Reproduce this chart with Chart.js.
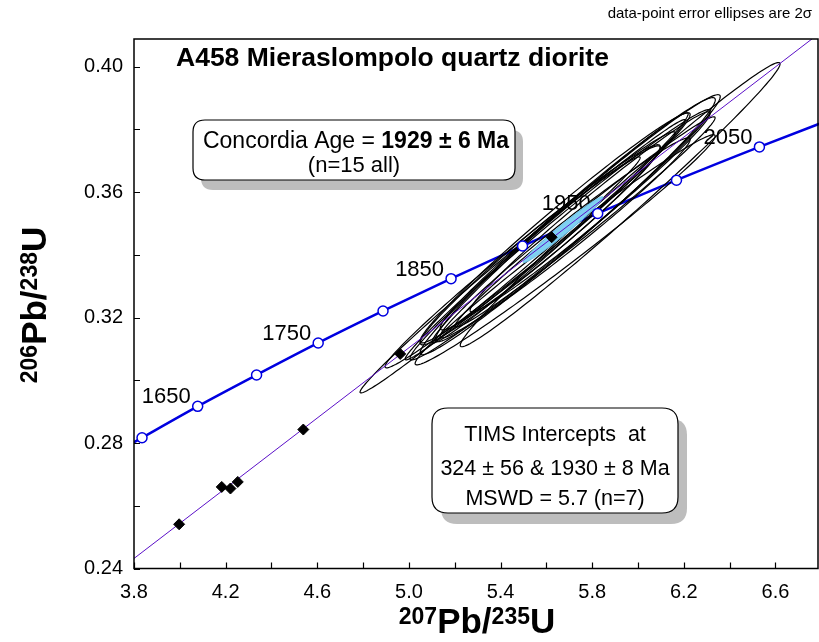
<!DOCTYPE html>
<html><head><meta charset="utf-8">
<script src="https://cdn.jsdelivr.net/npm/chart.js@4.4.1/dist/chart.umd.min.js"></script>
<style>html,body{margin:0;padding:0;background:#fff;}#wrap{width:819px;height:642px;position:relative;}</style>
</head><body><div id="wrap"><canvas id="c" width="819" height="642"></canvas></div>
<script>
// ---- data ----
const xTicks = [3.8, 4.2, 4.6, 5.0, 5.4, 5.8, 6.2, 6.6];
const xMinorTicks = [4.0, 4.4, 4.8, 5.2, 5.6, 6.0, 6.4];
const yTicks = [0.24, 0.28, 0.32, 0.36, 0.40];
const yMinorTicks = [0.26, 0.30, 0.34, 0.38];

// concordia curve (age in Ma, 207Pb/235U, 206Pb/238U)
const concAges = [1590, 1600, 1650, 1700, 1750, 1800, 1850, 1900, 1950, 2000, 2050, 2100];
const concX = [3.787, 3.835, 4.078, 4.335, 4.604, 4.887, 5.184, 5.496, 5.824, 6.168, 6.530, 6.910];
const concY = [0.2797, 0.2817, 0.2917, 0.3017, 0.3119, 0.3221, 0.3324, 0.3428, 0.3532, 0.3638, 0.3744, 0.3851];
const markerAges = [1600, 1650, 1700, 1750, 1800, 1850, 1900, 1950, 2000, 2050];
const labelAges = [1650, 1750, 1850, 1950, 2050];

// discordia (TIMS) line end points
const discX = [3.80, 6.80];
const discY = [0.2432, 0.4111];

// TIMS data points
const timsX = [3.997, 4.183, 4.221, 4.253, 4.539, 4.962, 5.623];
const timsY = [0.2541, 0.2660, 0.2655, 0.2676, 0.2843, 0.3084, 0.3456];

// SIMS error ellipses (centre, 1 sigma, correlation)
const ellX   = [5.922, 5.660, 5.595, 5.704, 5.638, 5.529, 5.398, 5.726, 5.682, 5.769, 5.573, 5.660, 5.791, 5.617, 5.682];
const ellY   = [0.3560, 0.3464, 0.3448, 0.3496, 0.3486, 0.3416, 0.3336, 0.3512, 0.3454, 0.3505, 0.3432, 0.3486, 0.3537, 0.3454, 0.3416];
const ellSX  = [0.349, 0.3275, 0.3057, 0.3275, 0.2948, 0.3166, 0.3057, 0.3057, 0.2729, 0.2838, 0.2620, 0.2795, 0.2620, 0.2402, 0.3275];
const ellSY  = [0.02265, 0.01994, 0.01914, 0.02073, 0.01834, 0.01882, 0.01882, 0.01946, 0.01595, 0.01675, 0.01595, 0.01834, 0.01595, 0.01467, 0.01834];
const ellRho = [0.99, 0.988, 0.993, 0.985, 0.985, 0.99, 0.993, 0.982, 0.985, 0.99, 0.98, 0.99, 0.985, 0.98, 0.988];

// concordia age ellipse
const cAgeX = 5.673, cAgeY = 0.3480, cAgeSX = 0.0873, cAgeSY = 0.00526, cAgeRho = 0.982;

const titleText = 'A458 Mieraslompolo quartz diorite';
const noteText = 'data-point error ellipses are 2\u03c3';
const box1Regular = 'Concordia Age = ';
const box1Bold = '1929 \u00b1 6 Ma';
const box1Line2 = '(n=15 all)';
const box2Lines = ['TIMS Intercepts  at', '324 \u00b1 56 & 1930 \u00b1 8 Ma', 'MSWD = 5.7 (n=7)'];

// ---- chart ----
const FONT = '"Liberation Sans", Arial, Helvetica, sans-serif';
const BLUE = '#0000e0';
const PURPLE = '#5b10c8';

function pts(xs, ys) { return xs.map((x, i) => ({ x: x, y: ys[i] })); }
const markerPts = markerAges.map(a => { const i = concAges.indexOf(a); return { x: concX[i], y: concY[i] }; });

function roundRect(ctx, x, y, w, h, r) {
  ctx.beginPath();
  ctx.moveTo(x + r, y);
  ctx.lineTo(x + w - r, y); ctx.quadraticCurveTo(x + w, y, x + w, y + r);
  ctx.lineTo(x + w, y + h - r); ctx.quadraticCurveTo(x + w, y + h, x + w - r, y + h);
  ctx.lineTo(x + r, y + h); ctx.quadraticCurveTo(x, y + h, x, y + h - r);
  ctx.lineTo(x, y + r); ctx.quadraticCurveTo(x, y, x + r, y);
  ctx.closePath();
}

function ellipsePath(ctx, xs, ys, cx, cy, sx, sy, rho) {
  const k = 2, q = Math.sqrt(1 - rho * rho);
  ctx.beginPath();
  for (let j = 0; j <= 180; j++) {
    const t = j / 180 * 2 * Math.PI, u = Math.cos(t), v = Math.sin(t);
    const X = cx + k * sx * u;
    const Y = cy + k * sy * (rho * u + q * v);
    const px = xs.getPixelForValue(X), py = ys.getPixelForValue(Y);
    if (j === 0) ctx.moveTo(px, py); else ctx.lineTo(px, py);
  }
  ctx.closePath();
}

function supWidth(ctx, parts, big, small) {
  let w = 0;
  parts.forEach(p => { ctx.font = 'bold ' + (p.sup ? small : big) + 'px ' + FONT; w += ctx.measureText(p.t).width; });
  return w;
}
function drawSupText(ctx, parts, cx, baseY, big, small, rise) {
  const w = supWidth(ctx, parts, big, small);
  let x = cx - w / 2;
  ctx.textAlign = 'left'; ctx.textBaseline = 'alphabetic'; ctx.fillStyle = '#000';
  parts.forEach(p => {
    ctx.font = 'bold ' + (p.sup ? small : big) + 'px ' + FONT;
    ctx.fillText(p.t, x, p.sup ? baseY - rise : baseY);
    x += ctx.measureText(p.t).width;
  });
}

const overlay = {
  id: 'overlay',
  afterDatasetDraw(chart, args) {
    if (args.index !== 1) return; // after concordia curve
    const ctx = chart.ctx, xs = chart.scales.x, ys = chart.scales.y, a = chart.chartArea;
    ctx.save();
    ctx.beginPath(); ctx.rect(a.left, a.top, a.right - a.left, a.bottom - a.top); ctx.clip();
    // age labels
    ctx.font = '22px ' + FONT; ctx.fillStyle = '#000'; ctx.textAlign = 'right'; ctx.textBaseline = 'alphabetic';
    labelAges.forEach(age => {
      const i = concAges.indexOf(age);
      const px = xs.getPixelForValue(concX[i]), py = ys.getPixelForValue(concY[i]);
      ctx.fillText(String(age), px - 7, py - 3);
    });
    // error ellipses
    ctx.strokeStyle = '#000'; ctx.lineWidth = 1.2;
    for (let i = 0; i < ellX.length; i++) {
      ellipsePath(ctx, xs, ys, ellX[i], ellY[i], ellSX[i], ellSY[i], ellRho[i]);
      ctx.stroke();
    }
    // concordia age ellipse
    ellipsePath(ctx, xs, ys, cAgeX, cAgeY, cAgeSX, cAgeSY, cAgeRho);
    ctx.fillStyle = '#7fd0f2'; ctx.fill();
    ctx.strokeStyle = '#6ac2ea'; ctx.lineWidth = 1; ctx.stroke();
    ctx.restore();
  },
  afterDraw(chart) {
    const ctx = chart.ctx, xs = chart.scales.x, ys = chart.scales.y, a = chart.chartArea;
    ctx.save();
    // frame
    ctx.strokeStyle = '#000'; ctx.lineWidth = 1.5;
    ctx.strokeRect(a.left, a.top, a.right - a.left - 1, a.bottom - a.top);
    // inward ticks
    ctx.lineWidth = 1.2;
    ctx.beginPath();
    xTicks.concat(xMinorTicks).forEach(v => { const p = Math.round(xs.getPixelForValue(v)) + 0.5; ctx.moveTo(p, a.bottom); ctx.lineTo(p, a.bottom - 6); });
    yTicks.concat(yMinorTicks).forEach(v => { const p = Math.round(ys.getPixelForValue(v)) + 0.5; ctx.moveTo(a.left, p); ctx.lineTo(a.left + 6, p); });
    ctx.stroke();

    // title
    ctx.fillStyle = '#000'; ctx.textAlign = 'left'; ctx.textBaseline = 'alphabetic';
    ctx.font = 'bold 26.5px ' + FONT;
    ctx.fillText(titleText, 176, 66);
    // note
    ctx.font = '15px ' + FONT; ctx.textAlign = 'right';
    ctx.fillText(noteText, 812, 18);

    // box 1
    ctx.fillStyle = '#bdbdbd'; roundRect(ctx, 201, 130, 322, 60, 12); ctx.fill();
    ctx.fillStyle = '#fff'; roundRect(ctx, 193, 120, 322, 60, 12); ctx.fill();
    ctx.strokeStyle = '#000'; ctx.lineWidth = 1.2; ctx.stroke();
    ctx.fillStyle = '#000';
    ctx.font = '23px ' + FONT; const w1 = ctx.measureText(box1Regular).width;
    ctx.font = 'bold 23px ' + FONT; const w2 = ctx.measureText(box1Bold).width;
    let sx = 356 - (w1 + w2) / 2;
    ctx.textAlign = 'left';
    ctx.font = '23px ' + FONT; ctx.fillText(box1Regular, sx, 148);
    ctx.font = 'bold 23px ' + FONT; ctx.fillText(box1Bold, sx + w1, 148);
    ctx.font = '22px ' + FONT; ctx.textAlign = 'center'; ctx.fillText(box1Line2, 354, 172);

    // box 2
    ctx.fillStyle = '#bdbdbd'; roundRect(ctx, 441, 419, 246, 105, 16); ctx.fill();
    ctx.fillStyle = '#fff'; roundRect(ctx, 432, 408, 246, 105, 16); ctx.fill();
    ctx.strokeStyle = '#000'; ctx.lineWidth = 1.2; ctx.stroke();
    ctx.fillStyle = '#000'; ctx.font = '21.5px ' + FONT; ctx.textAlign = 'center';
    [441, 475, 505].forEach((y, i) => ctx.fillText(box2Lines[i], 555, y));

    // axis titles
    drawSupText(ctx, [{t:'207',sup:true},{t:'Pb/'},{t:'235',sup:true},{t:'U'}], 477, 633, 35, 23, 9);
    ctx.save(); ctx.translate(46, 305); ctx.rotate(-Math.PI / 2);
    drawSupText(ctx, [{t:'206',sup:true},{t:'Pb/'},{t:'238',sup:true},{t:'U'}], 0, 0, 35, 23, 9);
    ctx.restore();
    ctx.restore();
  }
};

new Chart(document.getElementById('c').getContext('2d'), {
  type: 'scatter',
  data: {
    datasets: [
      { label: 'discordia', data: pts(discX, discY), showLine: true, borderColor: PURPLE, borderWidth: 1, pointRadius: 0, order: 3 },
      { label: 'concordia', data: pts(concX, concY), showLine: true, borderColor: BLUE, borderWidth: 2.5, pointRadius: 0, cubicInterpolationMode: 'monotone', order: 4 },
      { label: 'ages', data: markerPts, showLine: false, pointRadius: 5, pointBackgroundColor: '#fff', pointBorderColor: BLUE, pointBorderWidth: 1.5, order: 2 },
      { label: 'TIMS', data: pts(timsX, timsY), showLine: false, pointStyle: 'rectRot', pointRadius: 5.5, pointBackgroundColor: '#000', pointBorderColor: '#000', pointBorderWidth: 1, order: 1 }
    ]
  },
  options: {
    responsive: false, animation: false, devicePixelRatio: 1,
    layout: { autoPadding: false, padding: { left: 0, right: 0, top: 39, bottom: 0 } },
    plugins: { legend: { display: false }, tooltip: { enabled: false } },
    scales: {
      x: {
        type: 'linear', min: 3.8, max: 6.79,
        afterBuildTicks: s => { s.ticks = xTicks.map(v => ({ value: v })); },
        afterFit: s => { s.height = 73.5; },
        grid: { display: false, drawTicks: false }, border: { display: false },
        ticks: { font: { size: 20, family: FONT }, color: '#000', padding: 12, maxRotation: 0, autoSkip: false, callback: v => Number(v).toFixed(1) }
      },
      y: {
        type: 'linear', min: 0.24, max: 0.4088,
        afterBuildTicks: s => { s.ticks = yTicks.map(v => ({ value: v })); },
        afterFit: s => { s.width = 134; },
        grid: { display: false, drawTicks: false }, border: { display: false },
        ticks: { font: { size: 20, family: FONT }, color: '#000', padding: 11, autoSkip: false, callback: v => Number(v).toFixed(2) }
      }
    }
  },
  plugins: [overlay]
});
</script>
</body></html>
